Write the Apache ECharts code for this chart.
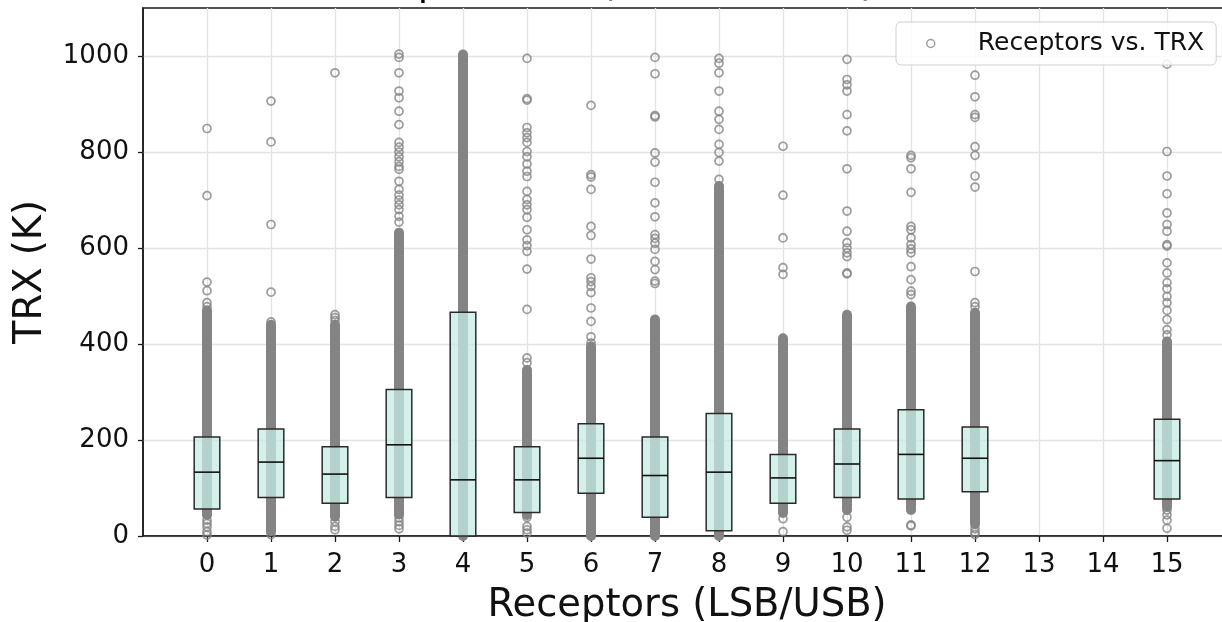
<!DOCTYPE html>
<html>
<head>
<meta charset="utf-8">
<title>Receptors vs. TRX</title>
<script src="https://cdn.jsdelivr.net/npm/echarts@6/dist/echarts.min.js"></script>
<style>
  html, body { margin: 0; padding: 0; background: #ffffff; }
  #chart { width: 1222px; height: 622px; }
</style>
</head>
<body>
<div id="chart"></div>
<script>
// Receptor index (LSB/USB) on the x axis; receptors 13 and 14 have no data.
const receptors = [0, 1, 2, 3, 4, 5, 6, 7, 8, 9, 10, 11, 12, 13, 14, 15];

// Quartiles of TRX (K) per receptor.
const q1     = [56, 80, 68, 80, 0, 49, 89, 39, 11, 68, 80, 77, 92, null, null, 77];
const median = [133, 154, 129, 190, 117, 117, 162, 126, 133, 121, 150, 170, 162, null, null, 157];
const q3     = [206, 223, 186, 305, 466, 186, 234, 206, 255, 170, 223, 263, 227, null, null, 243];

// Span where the individual TRX samples overlap into a solid column.
const denseLow  = [44, 10, 40, 45, 0, 44, 0, 0, 0, 48, 54, 54, 25, null, null, 61];
const denseHigh = [470, 440, 440, 632, 1003, 346, 395, 451, 729, 412, 461, 478, 465, null, null, 405];

// Isolated TRX samples outside the solid column.
const sparseSamples = [
  [849, 709, 529, 511, 486, 478, 33, 26, 19, 9, 2],
  [906, 821, 649, 508, 446, 3],
  [965, 461, 455, 449, 30, 20, 13],
  [1004, 997, 965, 927, 913, 885, 857, 820, 810, 800, 790, 780, 770, 764, 739, 722, 710, 700, 690, 680, 666, 654, 38, 30, 22, 15],
  [],
  [995, 911, 908, 851, 840, 830, 820, 801, 790, 775, 760, 749, 718, 701, 690, 680, 664, 638, 617, 605, 593, 556, 472, 371, 361, 39, 20, 13, 6],
  [897, 753, 748, 722, 645, 626, 577, 538, 530, 520, 507, 475, 447, 415, 402],
  [997, 963, 876, 873, 798, 779, 737, 694, 665, 628, 620, 610, 597, 572, 555, 531, 526],
  [995, 985, 965, 927, 885, 868, 847, 816, 799, 781, 743],
  [812, 710, 621, 559, 545, 36, 9],
  [993, 951, 940, 927, 878, 844, 765, 677, 635, 611, 600, 590, 582, 548, 546, 39, 19, 12],
  [793, 788, 765, 716, 645, 638, 621, 607, 598, 590, 561, 534, 510, 503, 23, 21],
  [960, 915, 878, 872, 811, 793, 750, 727, 551, 486, 478, 15, 8, 3],
  [],
  [],
  [983, 801, 750, 713, 673, 649, 635, 607, 604, 569, 548, 528, 515, 499, 486, 470, 451, 430, 419, 54, 44, 33, 16]
];

const yTicks = [0, 200, 400, 600, 800, 1000];
const seriesName = 'Receptors vs. TRX';
const titleText = 'TRX per band (LSB and USB)';

const FONT = 'DejaVu Sans';
const SAMPLE_GREY = '#848484';

// Build the per-series tables from the arrays above.
const boxRows = [];
const denseRows = [];
const sampleRows = [];
receptors.forEach(function (r, i) {
  if (q1[i] != null) boxRows.push([r, q1[i], median[i], q3[i]]);
  if (denseLow[i] != null) denseRows.push([r, denseLow[i], denseHigh[i]]);
  sparseSamples[i].forEach(function (v) { sampleRows.push([r, v]); });
});

const chart = echarts.init(document.getElementById('chart'), null, { renderer: 'canvas' });

chart.setOption({
  animation: false,
  backgroundColor: '#ffffff',
  textStyle: { fontFamily: FONT },
  grid: {
    left: 143, right: -9, top: 8, bottom: 86,
    outerBoundsMode: 'none',
    containLabel: false,
    show: true, borderColor: '#1a1a1a', borderWidth: 1.5,
    backgroundColor: 'transparent'
  },
  graphic: [{
    // Title sits above the frame; only its lowest strokes reach the canvas.
    type: 'text',
    x: 330,
    y: -15,
    silent: true,
    style: {
      text: titleText,
      font: '38px "DejaVu Sans"',
      fill: '#000',
      align: 'left',
      verticalAlign: 'middle'
    }
  }],
  legend: {
    data: [seriesName],
    left: 896, top: 22,
    orient: 'horizontal',
    padding: [8, 12, 8, 30],
    itemWidth: 8, itemHeight: 8,
    backgroundColor: 'rgba(255,255,255,0.85)',
    borderColor: '#cfcfcf', borderWidth: 1, borderRadius: 5,
    itemStyle: { color: 'rgba(0,0,0,0)', borderColor: SAMPLE_GREY, borderWidth: 1.5 },
    textStyle: { fontFamily: FONT, fontSize: 25, color: '#111', lineHeight: 27, padding: [0, 0, 0, 38] },
    selectedMode: false
  },
  xAxis: {
    type: 'value',
    min: -1, max: 16, interval: 1,
    name: 'Receptors (LSB/USB)',
    nameLocation: 'middle', nameGap: 50,
    nameTextStyle: { fontFamily: FONT, fontSize: 38.5, color: '#111' },
    axisLine: { show: true, onZero: false, lineStyle: { color: '#1a1a1a', width: 1.5 } },
    axisTick: { show: true, length: 6, lineStyle: { color: '#1a1a1a', width: 1.3 }, customValues: receptors },
    axisLabel: {
      fontFamily: FONT, fontSize: 26, color: '#111', margin: 16,
      customValues: receptors,
      formatter: function (v) { return receptors.indexOf(v) >= 0 ? String(v) : ''; }
    },
    splitLine: { show: true, lineStyle: { color: '#e3e3e3', width: 1.3 } }
  },
  yAxis: {
    type: 'value',
    min: 0, max: 1100, interval: 200,
    name: 'TRX (K)',
    nameLocation: 'middle', nameGap: 93, nameRotate: 90,
    nameTextStyle: { fontFamily: FONT, fontSize: 38.5, color: '#111' },
    axisLine: { show: true, onZero: false, lineStyle: { color: '#1a1a1a', width: 1.5 } },
    axisTick: { show: true, length: 5, lineStyle: { color: '#1a1a1a', width: 1.3 }, customValues: yTicks },
    axisLabel: {
      fontFamily: FONT, fontSize: 26, color: '#111', margin: 14,
      customValues: yTicks,
      formatter: function (v) { return String(v); }
    },
    splitLine: { show: true, lineStyle: { color: '#e3e3e3', width: 1.3 } }
  },
  series: [
    {
      // Solid columns where the samples pile on top of each other.
      name: 'dense',
      type: 'custom',
      z: 2,
      silent: true,
      encode: { x: 0, y: [1, 2] },
      data: denseRows,
      renderItem: function (params, api) {
        const x = api.value(0);
        const top = api.coord([x, api.value(2)]);
        const bot = api.coord([x, api.value(1)]);
        const w = 10;
        return {
          type: 'rect',
          shape: { x: top[0] - w / 2, y: top[1] - w / 2, width: w, height: bot[1] - top[1] + w, r: w / 2 },
          style: { fill: SAMPLE_GREY }
        };
      }
    },
    {
      name: seriesName,
      type: 'scatter',
      z: 3,
      symbol: 'circle',
      symbolSize: 8,
      itemStyle: { color: 'rgba(0,0,0,0)', borderColor: SAMPLE_GREY, borderWidth: 1.7 },
      data: sampleRows
    },
    {
      // Interquartile boxes with the median line, drawn over the samples.
      name: 'boxes',
      type: 'custom',
      z: 5,
      silent: true,
      encode: { x: 0, y: [1, 2, 3] },
      data: boxRows,
      renderItem: function (params, api) {
        const x = api.value(0);
        const lo = api.coord([x, api.value(1)]);
        const mid = api.coord([x, api.value(2)]);
        const hi = api.coord([x, api.value(3)]);
        const half = api.size([0.4, 0])[0] / 2;
        return {
          type: 'group',
          children: [
            {
              type: 'rect',
              shape: { x: lo[0] - half, y: hi[1], width: half * 2, height: lo[1] - hi[1] },
              style: { fill: 'rgba(197,235,228,0.75)', stroke: '#2a2a2a', lineWidth: 1.5 }
            },
            {
              type: 'line',
              shape: { x1: mid[0] - half, y1: mid[1], x2: mid[0] + half, y2: mid[1] },
              style: { stroke: '#111111', lineWidth: 1.6 }
            }
          ]
        };
      }
    }
  ]
});
</script>
</body>
</html>
